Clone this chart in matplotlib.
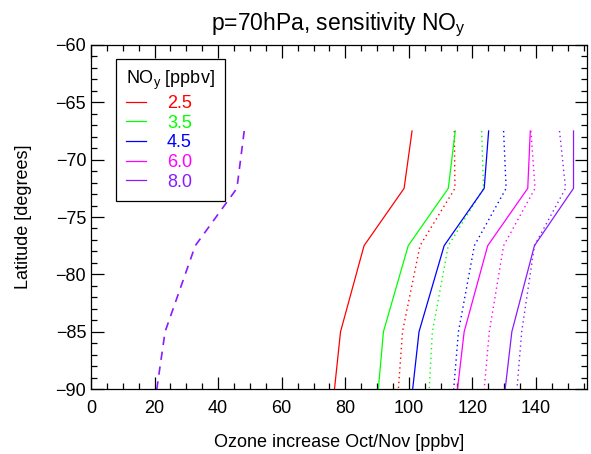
import matplotlib
matplotlib.use("Agg")
import matplotlib.pyplot as plt
from matplotlib.ticker import MultipleLocator
from matplotlib.lines import Line2D

plt.rcParams['font.family'] = ['Liberation Sans', 'DejaVu Sans']

# latitude nodes of every profile
lat = [-67.5, -72.5, -77.5, -85.0, -90.0]

noy_labels = ["2.5", "3.5", "4.5", "6.0", "8.0"]
farben = ["#ff0000", "#00ff00", "#0000ff", "#ff00ff", "#8a1aff"]

# solid profiles, one per NOy value
solid = [
    [101.0, 98.5, 85.9, 78.5, 76.6],
    [114.6, 112.4, 99.8, 92.0, 90.4],
    [125.1, 123.7, 111.1, 103.2, 101.2],
    [138.2, 137.4, 124.8, 117.4, 115.3],
    [151.8, 151.8, 139.5, 132.4, 130.3],
]

# dotted profiles
dotted = [
    [114.3, 114.5, 103.5, 98.0, 96.7],
    [122.9, 123.5, 112.4, 107.4, 106.4],
    [129.8, 130.6, 120.6, 115.6, 114.1],
    [138.4, 139.7, 129.8, 125.3, 123.7],
    [147.4, 149.3, 139.5, 135.5, 134.0],
]

# dashed profile (purple)
dashed = [48.2, 45.9, 32.8, 23.3, 20.7]

fig = plt.figure(figsize=(5.91, 4.54), dpi=100)
ax = fig.add_axes([0.154, 0.143, 0.839, 0.758])

for i in range(len(solid)):
    ax.plot(solid[i], lat, color=farben[i], lw=0.9)
    ax.plot(dotted[i], lat, color=farben[i], lw=1.0, linestyle=(0, (1, 2.5)))
ax.plot(dashed, lat, color=farben[4], lw=1.2, linestyle=(0, (5, 4)))

ax.set_xlim(0, 156)
ax.set_ylim(-90, -60)
ax.xaxis.set_major_locator(MultipleLocator(20))
ax.xaxis.set_minor_locator(MultipleLocator(5))
ax.yaxis.set_major_locator(MultipleLocator(5))
ax.yaxis.set_minor_locator(MultipleLocator(1))
ax.tick_params(which='both', direction='in', top=True, right=True, labelsize=13, width=0.9)
ax.tick_params(which='major', length=9)
ax.tick_params(which='minor', length=4.5)
ax.tick_params(axis='x', pad=8)
for s in ax.spines.values():
    s.set_linewidth(0.9)

ax.set_xlabel("Ozone increase Oct/Nov [ppbv]", fontsize=13, labelpad=12)
ax.set_ylabel("Latitude [degrees]", fontsize=13, labelpad=17)
ax.set_title("p=70hPa, sensitivity NO$_\\mathregular{y}$", fontsize=16.5, pad=11)

handles = [Line2D([], [], color=c, lw=0.9) for c in farben]
leg = ax.legend(handles, noy_labels, title="NO$_\\mathregular{y}$ [ppbv]", loc='upper left',
                bbox_to_anchor=(0.033, 0.985), fontsize=13, title_fontsize=13,
                alignment='left', frameon=True, fancybox=False, edgecolor='black',
                framealpha=1, handlelength=1.1, handletextpad=1.15, labelspacing=0.15,
                borderpad=0.55)
leg.get_frame().set_linewidth(0.9)
for t, c in zip(leg.get_texts(), farben):
    t.set_color(c)

fig.savefig("out.png", dpi=100)
